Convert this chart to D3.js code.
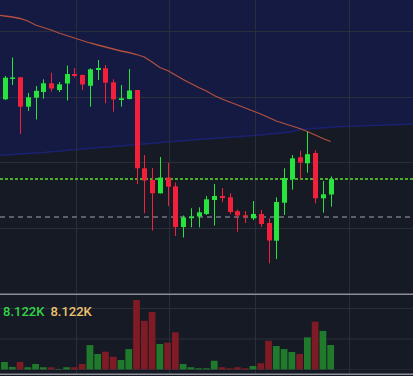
<!DOCTYPE html>
<html>
<head>
<meta charset="utf-8">
<script src="https://d3js.org/d3.v7.min.js"></script>
<style>
  body { margin: 0; background: #161a25; }
  svg { display: block; }
  .vol-label { font-family: Roboto, sans-serif; font-size: 13px; font-weight: 500; }
</style>
</head>
<body>
<div id="chart"></div>
<script>
  // candles, oldest first
  var opens  = [200.7, 221, 222.7, 193.3, 202.3, 208, 216.7, 210, 216.5, 226, 225, 214.2, 230, 231.7, 217.7, 200, 201, 210, 131.7, 120, 106.7, 122.5, 113.7, 73, 82.3, 83.5, 86, 100, 104, 102.7, 88.8, 84.7, 81.7, 86, 77, 59.3, 97.3, 120.7, 142.7, 136.7, 147, 101.7, 105.5];
  var closes = [222.3, 222.5, 193.3, 202.7, 209.2, 216.7, 211.5, 215.7, 226, 224, 215.5, 230.7, 232, 217.3, 200.7, 201.7, 209.5, 131.7, 119.5, 106.7, 122.5, 113.3, 73, 82.5, 83.3, 87.7, 100.7, 104, 102, 88, 84.5, 83.3, 86, 76, 59.5, 98, 122, 141.7, 137.5, 145.8, 101.7, 105.7, 120.8];
  var highs  = [224, 242.5, 223, 207, 214, 220.7, 227.3, 218, 234.5, 232, 225.5, 231.7, 240, 235, 220.7, 215, 231, 210, 145, 132, 143, 137.3, 117.5, 84.5, 91.7, 92.7, 104, 116, 112, 106.7, 90.5, 89, 99, 90, 81.7, 102.7, 131.7, 145, 149.3, 168.3, 149.7, 119, 123.5];
  var lows   = [200, 215, 166, 189, 180.5, 201.3, 208.3, 208, 199.5, 222.5, 210, 193.3, 220, 196.7, 188.3, 193.3, 200.5, 116, 86.7, 69.5, 106.5, 94, 64, 62.5, 72.7, 72.7, 85, 74.5, 98, 86, 68.3, 77, 80, 73, 36.7, 41, 85, 110.3, 121.2, 127.3, 96.7, 87.3, 93.3];
  // volume, thousands
  var volumes = [2.6, 1.0, 2.6, 0.9, 1.95, 0.9, 0.85, 0.35, 0.9, 0.9, 1.95, 8.1, 5.2, 5.95, 4.3, 3.25, 6.8, 22.75, 16.0, 18.85, 8.45, 8.9, 12.25, 1.95, 0.9, 0.55, 0.55, 3.0, 0.9, 0.55, 0.9, 0.55, 1.3, 2.2, 9.5, 7.8, 6.8, 5.85, 5.2, 10.6, 15.7, 12.7, 8.122];
  // moving average, starts one bar before the first candle
  var maValues = [285, 284, 283, 281.5, 279, 275, 272.5, 270, 267, 264.5, 262, 259.5, 257, 255, 253, 251, 249, 247.5, 245.5, 243, 238, 232.5, 229.5, 225, 220.5, 216.5, 212.5, 209, 204.5, 201, 198, 195, 192, 189, 186, 182.5, 179, 176.5, 174, 171.5, 168.5, 165, 161.5, 158.5];
  // lower edge of the shaded cloud (bar index, value)
  var cloudIdx = [-1, 5, 10, 14, 18, 19, 25, 30, 34, 37, 38, 43, 53];
  var cloudVal = [144.5, 147.5, 151, 153.5, 156, 156.7, 160.5, 163.3, 165.7, 168.3, 170.5, 173.3, 176];
  var lastPrice = 120.7;
  var refPrice = 83.5;
  var gridBars = [9.2, 21.2, 32.2, 44.3];
  var gridPrices = [269, 203.5, 138, 72];
  var volLabels = ["8.122K", "8.122K"];

  var W = 413, H = 376;
  var upColor = "#26e33e", downColor = "#f2203a";
  var volUp = "#1f7a2b", volDown = "#7e1b24";

  var svg = d3.select("#chart").append("svg")
    .attr("width", W).attr("height", H);

  svg.append("rect").attr("width", W).attr("height", H).attr("fill", "#161a25");

  var x = d3.scaleLinear().domain([-0.58, 52.6]).range([0, W]);
  var y = d3.scaleLinear().domain([0, 300]).range([300, 0]);
  var yv = d3.scaleLinear().domain([0, 25]).range([370, 293.1]);

  var mainTop = 0, mainBottom = 293;

  svg.append("clipPath").attr("id", "mainClip")
    .append("rect").attr("x", 0).attr("y", mainTop).attr("width", W).attr("height", mainBottom - mainTop);

  var main = svg.append("g").attr("clip-path", "url(#mainClip)");

  // cloud
  var cloud = cloudIdx.map(function(d, i) { return { i: d, v: cloudVal[i] }; });
  main.append("path")
    .datum(cloud)
    .attr("fill", "#141a42")
    .attr("d", d3.area().x(function(d) { return x(d.i); }).y0(mainTop).y1(function(d) { return y(d.v); }));
  main.append("path")
    .datum(cloud)
    .attr("fill", "none")
    .attr("stroke", "#1a2170")
    .attr("stroke-width", 1.5)
    .attr("d", d3.line().x(function(d) { return x(d.i); }).y(function(d) { return y(d.v); }));

  // grid
  main.selectAll(".hgrid").data(gridPrices).enter().append("line")
    .attr("x1", 0).attr("x2", W)
    .attr("y1", function(d) { return Math.round(y(d)) + 0.5; })
    .attr("y2", function(d) { return Math.round(y(d)) + 0.5; })
    .attr("stroke", "#2a2e3b");
  main.selectAll(".vgrid").data(gridBars).enter().append("line")
    .attr("y1", mainTop).attr("y2", mainBottom)
    .attr("x1", function(d) { return Math.round(x(d)) + 0.5; })
    .attr("x2", function(d) { return Math.round(x(d)) + 0.5; })
    .attr("stroke", "#2a2e3b");

  // price lines
  main.append("line")
    .attr("x1", 0).attr("x2", W)
    .attr("y1", Math.round(y(refPrice))).attr("y2", Math.round(y(refPrice)))
    .attr("stroke", "#5c5f69").attr("stroke-width", 2).attr("stroke-dasharray", "5,4");
  main.append("line")
    .attr("x1", 0).attr("x2", W)
    .attr("y1", Math.round(y(lastPrice))).attr("y2", Math.round(y(lastPrice)))
    .attr("stroke", "#5ee02a").attr("stroke-width", 1.6).attr("stroke-dasharray", "3,2");

  // moving average
  main.append("path")
    .datum(maValues)
    .attr("fill", "none")
    .attr("stroke", "#b2503f")
    .attr("stroke-width", 1.3)
    .attr("d", d3.line().x(function(d, i) { return x(i - 1); }).y(function(d) { return y(d); }));

  // candles
  var candles = opens.map(function(o, i) {
    return { i: i, o: o, c: closes[i], h: highs[i], l: lows[i], v: volumes[i] };
  });
  var bodyW = 5;

  var cg = main.selectAll(".candle").data(candles).enter().append("g");
  cg.append("line")
    .attr("x1", function(d) { return Math.round(x(d.i)) + 0.5; })
    .attr("x2", function(d) { return Math.round(x(d.i)) + 0.5; })
    .attr("y1", function(d) { return y(d.h); })
    .attr("y2", function(d) { return y(d.l); })
    .attr("stroke", function(d) { return d.c >= d.o ? upColor : downColor; });
  cg.append("rect")
    .attr("x", function(d) { return Math.round(x(d.i)) + 0.5 - bodyW / 2; })
    .attr("y", function(d) { return y(Math.max(d.o, d.c)); })
    .attr("width", bodyW)
    .attr("height", function(d) { return Math.max(1.5, Math.abs(y(d.o) - y(d.c))); })
    .attr("fill", function(d) { return d.c >= d.o ? upColor : downColor; });

  // volume pane
  var vol = svg.append("g");
  [308, 338.5].forEach(function(gy) {
    vol.append("line").attr("x1", 0).attr("x2", W).attr("y1", gy + 0.5).attr("y2", gy + 0.5).attr("stroke", "#2a2e3b");
  });
  vol.selectAll(".vgrid").data(gridBars).enter().append("line")
    .attr("y1", 295).attr("y2", 374)
    .attr("x1", function(d) { return Math.round(x(d)) + 0.5; })
    .attr("x2", function(d) { return Math.round(x(d)) + 0.5; })
    .attr("stroke", "#2a2e3b");

  var step = x(1) - x(0);
  vol.selectAll(".vbar").data(candles).enter().append("rect")
    .attr("x", function(d) { return x(d.i) - step / 2 + 0.5; })
    .attr("width", step - 1)
    .attr("y", function(d) { return yv(d.v); })
    .attr("height", function(d) { return yv(0) - yv(d.v); })
    .attr("fill", function(d) { return d.c >= d.o ? volUp : volDown; });

  vol.append("line").attr("x1", 0).attr("x2", W).attr("y1", 369.5).attr("y2", 369.5).attr("stroke", "#2a2e3b").attr("opacity", 0.6);

  // pane borders
  svg.append("rect").attr("x", 0).attr("y", 293.5).attr("width", W).attr("height", 1.5).attr("fill", "#8b8e96");
  svg.append("rect").attr("x", 0).attr("y", 373.5).attr("width", W).attr("height", 1.5).attr("fill", "#8b8e96");

  var t = vol.append("text").attr("class", "vol-label").attr("x", 3).attr("y", 316);
  t.append("tspan").attr("fill", "#33d448").text(volLabels[0]);
  t.append("tspan").attr("fill", "#eec36c").attr("dx", 6).text(volLabels[1]);
</script>
</body>
</html>
